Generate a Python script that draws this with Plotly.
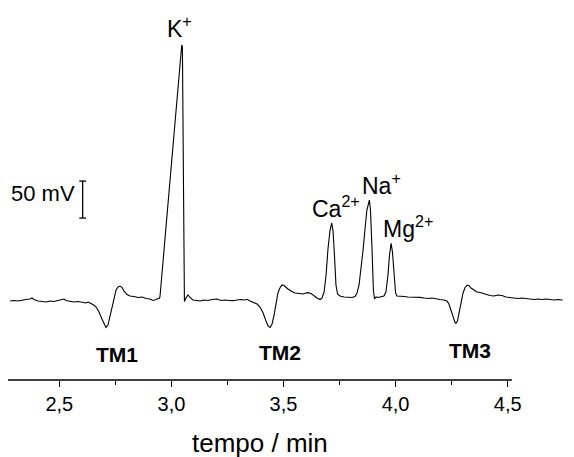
import plotly.graph_objects as go

# Electropherogram: detector signal (mV) versus migration time (min)
tempo_min = [
    2.280, 2.298, 2.316, 2.333, 2.351, 2.369, 2.378, 2.387, 2.405, 2.423, 2.441, 2.458,
    2.476, 2.494, 2.512, 2.521, 2.530, 2.548, 2.565, 2.583, 2.601, 2.619, 2.628, 2.637,
    2.650, 2.664, 2.677, 2.690, 2.699, 2.708, 2.717, 2.726, 2.735, 2.744, 2.753, 2.762,
    2.771, 2.780, 2.788, 2.802, 2.815, 2.833, 2.851, 2.869, 2.887, 2.904, 2.918, 2.931,
    2.940, 2.947, 2.949, 3.046, 3.049, 3.056, 3.058, 3.065, 3.074, 3.083, 3.096, 3.114,
    3.128, 3.145, 3.163, 3.181, 3.203, 3.221, 3.239, 3.257, 3.275, 3.293, 3.310, 3.328,
    3.337, 3.351, 3.364, 3.382, 3.395, 3.409, 3.422, 3.431, 3.440, 3.449, 3.458, 3.466,
    3.475, 3.484, 3.493, 3.502, 3.511, 3.520, 3.533, 3.551, 3.569, 3.587, 3.600, 3.609,
    3.623, 3.636, 3.649, 3.663, 3.672, 3.681, 3.690, 3.698, 3.707, 3.715, 3.721, 3.728,
    3.734, 3.741, 3.752, 3.770, 3.788, 3.806, 3.819, 3.828, 3.837, 3.846, 3.855, 3.864,
    3.872, 3.883, 3.888, 3.895, 3.901, 3.906, 3.913, 3.922, 3.935, 3.948, 3.957, 3.966,
    3.973, 3.980, 3.986, 3.993, 4.000, 4.006, 4.020, 4.038, 4.055, 4.073, 4.091, 4.109,
    4.127, 4.145, 4.162, 4.180, 4.198, 4.216, 4.229, 4.238, 4.247, 4.256, 4.265, 4.269,
    4.276, 4.283, 4.292, 4.301, 4.310, 4.319, 4.327, 4.336, 4.350, 4.363, 4.377, 4.390,
    4.403, 4.421, 4.439, 4.457, 4.475, 4.492, 4.510, 4.528, 4.546, 4.564, 4.582, 4.600,
    4.617, 4.635, 4.653, 4.671, 4.689, 4.707, 4.724, 4.745,
]
sinal_mV = [
    -4.1, -3.4, -4.1, -2.7, -2.0, -1.4, 0.0, -2.0, -4.1, -4.7, -5.4, -4.1,
    -4.7, -3.4, -2.0, -1.4, -3.4, -4.7, -5.4, -4.7, -6.1, -6.8, -5.4, -6.8,
    -8.8, -12.2, -18.9, -28.4, -35.1, -39.9, -36.5, -24.3, -9.5, 2.7, 10.8, 14.9,
    16.2, 14.2, 9.5, 4.7, 2.7, 2.0, 0.7, 1.4, -0.7, -1.4, -3.4, -2.0,
    -1.4, 0.0, 2.0, 341.9, 339.2, 2.7, -4.7, 0.0, 4.1, 0.7, -2.7, -3.4,
    -4.1, -2.7, -3.4, -2.0, -1.4, -3.4, -2.7, -3.4, -3.6, -2.7, -2.0, -2.7,
    -1.8, -4.1, -5.4, -8.1, -12.2, -20.3, -31.1, -37.8, -39.9, -35.1, -23.0, -6.8,
    6.8, 13.5, 17.6, 16.9, 14.2, 12.2, 9.5, 6.8, 6.1, 5.4, 6.8, 7.2,
    6.1, 2.7, 0.0, -2.0, 0.0, 8.1, 31.1, 64.9, 90.5, 101.4, 90.5, 54.1,
    17.6, 5.4, 2.7, 1.4, 0.7, 0.7, 2.0, 6.8, 17.6, 37.8, 64.9, 94.6,
    118.9, 132.4, 118.9, 64.9, 10.8, -1.4, 1.4, 0.7, 1.4, 2.7, 8.1, 31.1,
    58.1, 73.9, 62.2, 29.7, 6.8, 2.7, 2.0, 2.0, 1.4, 1.4, 0.7, 0.9,
    0.0, -0.7, 0.0, -1.4, -2.0, -2.7, -4.1, -8.1, -16.2, -25.7, -33.1, -34.2,
    -31.1, -20.3, -5.4, 6.8, 14.2, 17.2, 16.9, 13.5, 10.8, 8.1, 7.4, 6.1,
    5.4, 3.4, 2.7, 4.1, 3.4, 1.4, 0.7, 0.0, -0.7, 0.0, -0.7, -1.4,
    -2.0, -1.4, -2.0, -1.4, -2.0, -2.7, -2.0, -2.7,
]

# Peak labels (ions) and system peaks
ion_labels = ["K<sup>+</sup>", "Ca<sup>2+</sup>", "Na<sup>+</sup>", "Mg<sup>2+</sup>"]
ion_x = [3.038, 3.734, 3.935, 4.057]
ion_y = [366, 123, 154, 96]

tm_labels = ["TM1", "TM2", "TM3"]
tm_x = [2.757, 3.484, 4.332]
tm_y = [-75.7, -73.0, -71.6]

tick_vals = [2.5, 3.0, 3.5, 4.0, 4.5]
tick_text = ["2,5", "3,0", "3,5", "4,0", "4,5"]
minor_vals = [2.75, 3.25, 3.75, 4.25]

axis_start, axis_end = 2.271, 4.519

# Scale bar: 50 mV
bar_x = 2.604
bar_bottom, bar_top = 108.0, 158.0
bar_cap = 0.015

FONT = "Liberation Sans, Arial, sans-serif"

fig = go.Figure()
fig.add_trace(go.Scatter(
    x=tempo_min, y=sinal_mV, mode="lines",
    line=dict(color="black", width=1.1),
    hoverinfo="skip", showlegend=False,
))

shapes = [
    dict(type="line", xref="x", yref="paper", x0=axis_start, x1=axis_end, y0=0, y1=0,
         line=dict(color="black", width=1.3)),
    dict(type="line", xref="x", yref="y", x0=bar_x, x1=bar_x, y0=bar_bottom, y1=bar_top,
         line=dict(color="black", width=1.3)),
    dict(type="line", xref="x", yref="y", x0=bar_x - bar_cap, x1=bar_x + bar_cap,
         y0=bar_bottom, y1=bar_bottom, line=dict(color="black", width=1.3)),
    dict(type="line", xref="x", yref="y", x0=bar_x - bar_cap, x1=bar_x + bar_cap,
         y0=bar_top, y1=bar_top, line=dict(color="black", width=1.3)),
]

annotations = []
for t, x, y in zip(ion_labels, ion_x, ion_y):
    annotations.append(dict(x=x, y=y, xref="x", yref="y", text=t, showarrow=False,
                            xanchor="center", yanchor="middle",
                            font=dict(family=FONT, size=23, color="black")))
for t, x, y in zip(tm_labels, tm_x, tm_y):
    annotations.append(dict(x=x, y=y, xref="x", yref="y", text=f"<b>{t}</b>",
                            showarrow=False, xanchor="center", yanchor="middle",
                            font=dict(family=FONT, size=21, color="black")))
annotations.append(dict(x=2.580, y=141.9, xref="x", yref="y", text="50 mV",
                        showarrow=False, xanchor="right", yanchor="middle",
                        font=dict(family=FONT, size=22, color="black")))
annotations.append(dict(x=3.395, y=-0.166, xref="x", yref="paper", text="tempo / min",
                        showarrow=False, xanchor="center", yanchor="middle",
                        font=dict(family=FONT, size=26, color="black")))

fig.update_layout(
    width=574, height=457,
    margin=dict(l=0, r=0, t=0, b=77),
    paper_bgcolor="white", plot_bgcolor="white",
    shapes=shapes, annotations=annotations,
    xaxis=dict(
        range=[2.2353, 4.7959], showgrid=False, zeroline=False, showline=False,
        tickmode="array", tickvals=tick_vals, ticktext=tick_text,
        ticks="outside", ticklen=6, tickwidth=1.3, tickcolor="black",
        minor=dict(tickmode="array", tickvals=minor_vals, ticks="outside",
                   ticklen=4, tickwidth=1.3, tickcolor="black", showgrid=False),
        tickfont=dict(family=FONT, size=20, color="black"),
        ticklabelstandoff=0,
        fixedrange=True,
    ),
    yaxis=dict(
        range=[-110.8, 402.7], visible=False, showgrid=False, zeroline=False,
        fixedrange=True,
    ),
)

fig.write_html("out.html")
